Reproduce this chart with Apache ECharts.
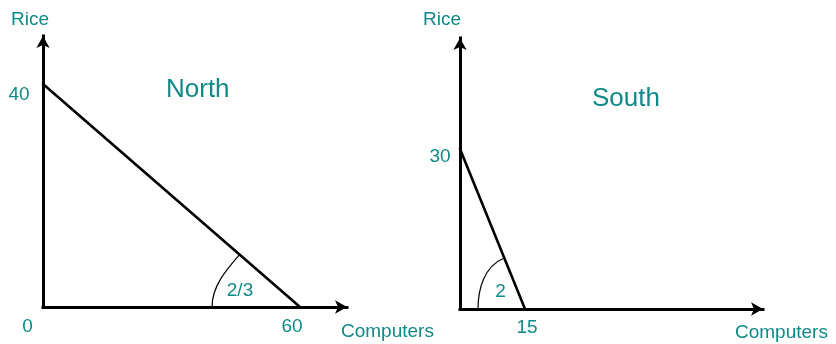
<!DOCTYPE html>
<html>
<head>
<meta charset="utf-8">
<script src="https://cdn.jsdelivr.net/npm/echarts@6/dist/echarts.min.js"></script>
<style>
  html, body { margin: 0; padding: 0; background: #ffffff; }
  #chart { width: 836px; height: 344px; }
</style>
</head>
<body>
<div id="chart"></div>
<script>
// Production possibilities of two regions
const regions = ['North', 'South'];
const computerIntercepts = [60, 15];   // computers produced when no rice is grown
const riceIntercepts = [40, 30];       // rice produced when no computers are made
const costLabels = ['2/3', '2'];        // rice given up per computer
const originLabels = ['0', ''];
const axisNames = ['Computers', 'Rice'];

const TEAL = '#0f8a87';
const FONT = "'Liberation Sans', Arial, sans-serif";

// Pixel layout of each panel
const grids = [
  { left: 43, top: 36, width: 304, height: 271, outerBoundsMode: 'none' },
  { left: 460, top: 38, width: 303, height: 271, outerBoundsMode: 'none' }
];
const xMax = [70.97, 69.9];
const yMax = [48.6, 50.8];

// Label offsets (pixels) from the point each label belongs to
const yLabelOffset = [[-24, 11], [-20, 8]];
const xLabelOffset = [[-8, 20], [2, 19]];
const originOffset = [-15.5, 20];
const costOffset = [[-60, -16], [-24.5, -17]];
const arcRadii = [[88, 80], [47, 55]];
const yNameShift = [[-13, 16.5], [-18, 18.5]];
const xNameShift = [[-6, 25], [-28, 24]];

const chart = echarts.init(document.getElementById('chart'), null, { renderer: 'canvas' });

const textBase = { color: TEAL, fontFamily: FONT, fontSize: 19 };

function axisLine() {
  return {
    show: true,
    onZero: false,
    symbol: ['none', 'arrow'],
    symbolSize: [10, 12],
    lineStyle: { color: '#000', width: 3, cap: 'square' }
  };
}

const xAxes = grids.map((g, i) => ({
  type: 'value', gridIndex: i, min: 0, max: xMax[i],
  axisLine: axisLine(),
  axisTick: { show: false }, axisLabel: { show: false }, splitLine: { show: false },
  name: axisNames[0], nameLocation: 'end', nameGap: xNameShift[i][0],
  nameTextStyle: Object.assign({}, textBase, {
    align: 'left', verticalAlign: 'top',
    lineHeight: 2 * xNameShift[i][1]
  })
}));

const yAxes = grids.map((g, i) => ({
  type: 'value', gridIndex: i, min: 0, max: yMax[i],
  axisLine: axisLine(),
  axisTick: { show: false }, axisLabel: { show: false }, splitLine: { show: false },
  name: axisNames[1], nameLocation: 'end', nameGap: yNameShift[i][1],
  nameTextStyle: Object.assign({}, textBase, {
    align: 'center', verticalAlign: 'middle',
    padding: [0, -2 * yNameShift[i][0], 0, 0]
  })
}));

// Angle arc between the frontier and the computers axis
function arcRenderer(i) {
  return function (params, api) {
    const v = api.coord([api.value(0), api.value(1)]);
    const p = api.coord([api.value(2), api.value(3)]);
    const dx = p[0] - v[0], dy = p[1] - v[1];
    const len = Math.hypot(dx, dy);
    const ux = dx / len, uy = dy / len;
    const theta = Math.atan2(-uy, -ux);
    const r0 = arcRadii[i][0], r1 = arcRadii[i][1];
    const k = 4 / 3 * Math.tan(theta / 4);
    const a = [v[0] - r0, v[1]];
    const b = [v[0] + ux * r1, v[1] + uy * r1];
    const c1 = [a[0], a[1] - k * r0];
    const c2 = [b[0] + uy * k * r1, b[1] - ux * k * r1];
    return {
      type: 'path',
      shape: {
        pathData: 'M' + a[0] + ' ' + a[1] + ' C' + c1[0] + ' ' + c1[1] + ' ' +
          c2[0] + ' ' + c2[1] + ' ' + b[0] + ' ' + b[1]
      },
      style: { stroke: '#000', fill: 'none', lineWidth: 1.2 }
    };
  };
}

function labelItem(value, text, offset) {
  return {
    value: value,
    label: Object.assign({}, textBase, {
      show: true, position: 'inside', offset: offset,
      align: 'center', verticalAlign: 'middle',
      textBorderWidth: 0, formatter: text
    })
  };
}

const series = [];
regions.forEach((name, i) => {
  const c = computerIntercepts[i], r = riceIntercepts[i];
  series.push({
    type: 'line', xAxisIndex: i, yAxisIndex: i,
    data: [[0, r], [c, 0]],
    symbol: 'none', silent: true,
    lineStyle: { color: '#000', width: 2.6, cap: 'round' }
  });
  series.push({
    type: 'custom', xAxisIndex: i, yAxisIndex: i, clip: false, silent: true,
    renderItem: arcRenderer(i),
    data: [[c, 0, 0, r]]
  });
  const labels = [
    labelItem([0, r], String(r), yLabelOffset[i]),
    labelItem([c, 0], String(c), xLabelOffset[i]),
    labelItem([c, 0], costLabels[i], costOffset[i])
  ];
  if (originLabels[i]) labels.push(labelItem([0, 0], originLabels[i], originOffset));
  series.push({
    type: 'scatter', xAxisIndex: i, yAxisIndex: i, silent: true,
    symbol: 'circle', symbolSize: 0, itemStyle: { color: TEAL, opacity: 1 },
    data: labels
  });
});

const titlePos = [{ left: 166, top: 77 }, { left: 592, top: 86 }];

chart.setOption({
  animation: false,
  backgroundColor: '#ffffff',
  title: regions.map((name, i) => ({
    text: name, left: titlePos[i].left, top: titlePos[i].top, padding: 0,
    textStyle: { color: TEAL, fontFamily: FONT, fontSize: 26, fontWeight: 'normal' }
  })),
  grid: grids,
  xAxis: xAxes,
  yAxis: yAxes,
  series: series
});
</script>
</body>
</html>
